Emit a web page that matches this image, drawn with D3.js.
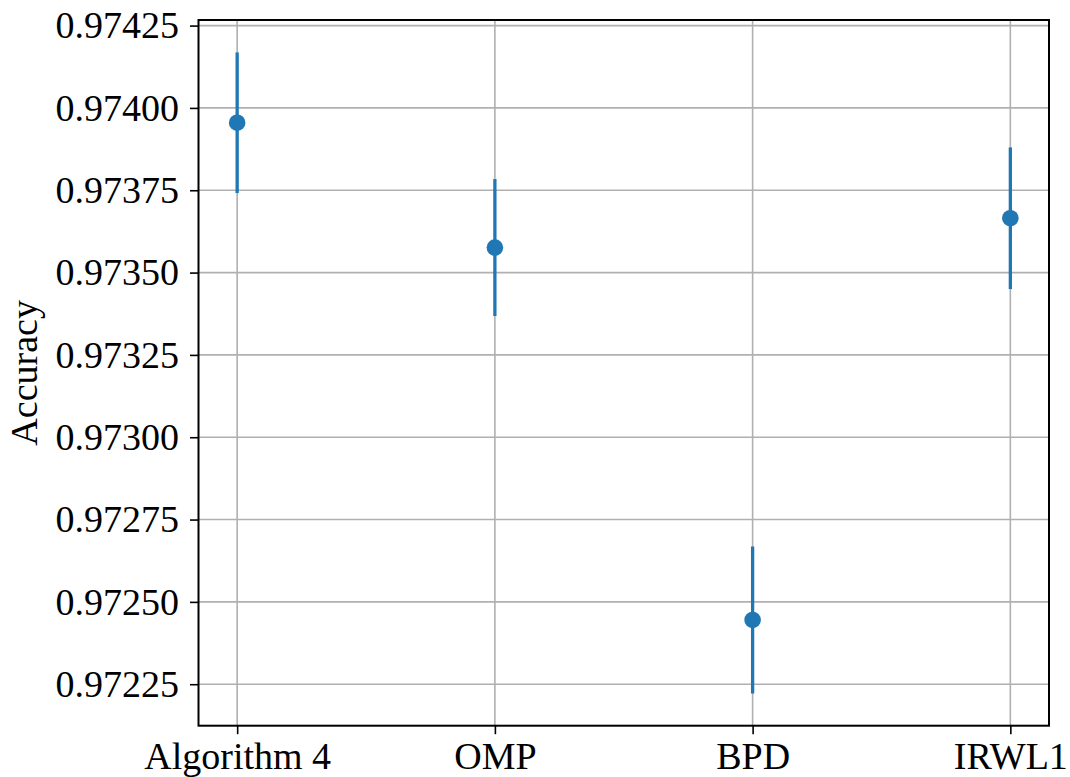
<!DOCTYPE html>
<html>
<head>
<meta charset="utf-8">
<script src="https://d3js.org/d3.v7.min.js"></script>
<style>
  body { margin: 0; background: #fff; }
  svg text { font-family: "Liberation Serif", "Times New Roman", serif; fill: #000; }
</style>
</head>
<body>
<div id="chart"></div>
<script>
// data
var methods = ["Algorithm 4", "OMP", "BPD", "IRWL1"];
var accuracy = [0.973955, 0.973576, 0.972445, 0.973665];
var errors = [0.0002135, 0.000208, 0.000223, 0.000215];
var yTicks = [0.97225, 0.97250, 0.97275, 0.97300, 0.97325, 0.97350, 0.97375, 0.97400, 0.97425];

var width = 1070, height = 777;
var mLeft = 198.5, mRight = 1049, mTop = 20, mBottom = 725.7;
var fontSize = "38px";

var svg = d3.select("#chart").append("svg")
    .attr("width", width)
    .attr("height", height);

var x = d3.scalePoint()
    .domain(methods)
    .range([mLeft, mRight])
    .padding(0.15);

var y = d3.scaleLinear()
    .domain([0.972124, 0.974267])
    .range([mBottom, mTop]);

// grid
svg.append("g")
    .selectAll("line")
    .data(yTicks)
    .enter().append("line")
    .attr("x1", mLeft).attr("x2", mRight)
    .attr("y1", function(d) { return y(d); })
    .attr("y2", function(d) { return y(d); })
    .style("stroke", "#b0b0b0")
    .style("stroke-width", 1.6);

svg.append("g")
    .selectAll("line")
    .data(methods)
    .enter().append("line")
    .attr("y1", mTop).attr("y2", mBottom)
    .attr("x1", function(d) { return x(d); })
    .attr("x2", function(d) { return x(d); })
    .style("stroke", "#b0b0b0")
    .style("stroke-width", 1.6);

// axes
var yAxis = svg.append("g")
    .attr("transform", "translate(" + mLeft + ",0)")
    .call(d3.axisLeft(y).tickValues(yTicks).tickFormat(d3.format(".5f")).tickSize(8.5).tickPadding(11));

var xAxis = svg.append("g")
    .attr("transform", "translate(0," + mBottom + ")")
    .call(d3.axisBottom(x).tickSize(8.5).tickPadding(8));

[yAxis, xAxis].forEach(function(a) {
    a.select(".domain").remove();
    a.selectAll(".tick line").style("stroke", "#000").style("stroke-width", 1.6);
    a.selectAll(".tick text")
        .style("font-size", fontSize)
        .style("font-family", "Liberation Serif, serif");
});

// frame
svg.append("rect")
    .attr("x", mLeft).attr("y", mTop)
    .attr("width", mRight - mLeft).attr("height", mBottom - mTop)
    .style("fill", "none")
    .style("stroke", "#000")
    .style("stroke-width", 2);

// error bars and points
var pts = svg.append("g")
    .selectAll("g")
    .data(methods)
    .enter().append("g");

pts.append("line")
    .attr("x1", function(d) { return x(d); })
    .attr("x2", function(d) { return x(d); })
    .attr("y1", function(d, i) { return y(accuracy[i] + errors[i]); })
    .attr("y2", function(d, i) { return y(accuracy[i] - errors[i]); })
    .style("stroke", "#1f77b4")
    .style("stroke-width", 3.3);

pts.append("circle")
    .attr("cx", function(d) { return x(d); })
    .attr("cy", function(d, i) { return y(accuracy[i]); })
    .attr("r", 8.3)
    .style("fill", "#1f77b4");

// y label
svg.append("text")
    .attr("transform", "translate(37," + ((mTop + mBottom) / 2) + ") rotate(-90)")
    .attr("text-anchor", "middle")
    .style("font-size", fontSize)
    .text("Accuracy");
</script>
</body>
</html>
